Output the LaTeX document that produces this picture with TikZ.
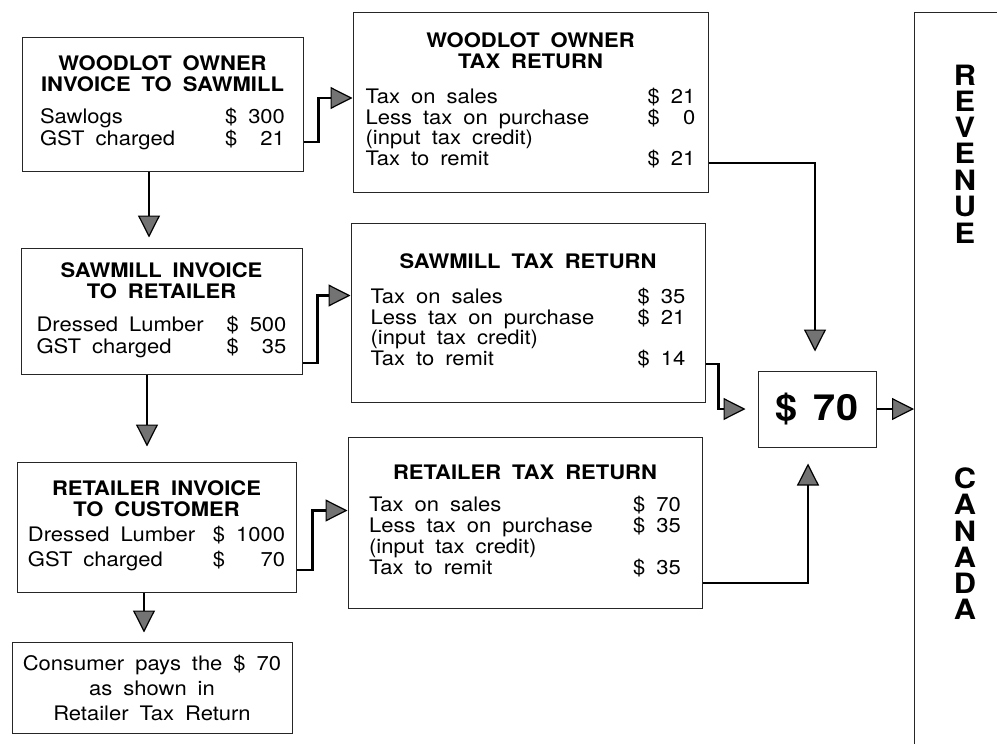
\documentclass[tikz,border=0pt]{standalone}
\usepackage{fontspec}
\setmainfont{TeX Gyre Heros}[FakeStretch=1.1,WordSpace=1.8]
\usetikzlibrary{positioning,arrows.meta}

\newcommand{\retrows}[4]{{\fontsize{20}{19.5}\selectfont
\begin{tabular}[t]{@{}p{#1}@{}l@{\ }r@{}}
Tax on sales&\$&#2\\
Less tax on purchase&\$&#3\\
(input tax credit)&&\\
Tax to remit&\$&#4
\end{tabular}}}

\begin{document}
\begin{tikzpicture}[x=1pt,y=-1pt,
  box/.style={draw=black!85,line width=1pt,align=center,font=\fontsize{20}{21}\selectfont},
  flow/.style={line width=2.5pt,-{Triangle[length=22pt,width=22pt,fill=black!55,line width=1.2pt]}},
  letter/.style={font=\fontsize{28}{30}\selectfont\bfseries}]
\clip (0,0) rectangle (997,744);
% invoices, left column
\node[box,minimum width=281pt,minimum height=134pt] (inv1) at (162.5,104) {\textbf{WOODLOT OWNER}\\\textbf{INVOICE TO SAWMILL}\\[11pt]
\begin{tabular}[t]{@{}p{185pt}@{}l@{\ }r@{}}Sawlogs&\$&300\\GST charged&\$&21\end{tabular}};
\node[box,minimum width=281pt,minimum height=126pt] (inv2) at (161.5,311) {\textbf{SAWMILL INVOICE}\\\textbf{TO RETAILER}\\[12pt]
\begin{tabular}[t]{@{}p{190pt}@{}l@{\ }r@{}}Dressed Lumber&\$&500\\GST charged&\$&35\end{tabular}};
\node[box,minimum width=279pt,minimum height=130pt] (inv3) at (156.5,527) {\textbf{RETAILER INVOICE}\\\textbf{TO CUSTOMER}\\[4pt]
\begin{tabular}[t]{@{}p{185pt}@{}l@{\ }r@{}}Dressed Lumber&\$&1000\\[3pt]GST charged&\$&70\end{tabular}};
\node[box,minimum width=280pt,minimum height=91pt,font=\fontsize{20}{25}\selectfont] (cons) at (152,687.5) {Consumer pays the \$ 70\\as shown in\\Retailer Tax Return};
% tax returns
\node[box,minimum width=355pt,minimum height=180pt] (ret1) at (530.5,102) {\textbf{WOODLOT OWNER}\\\textbf{TAX RETURN}\\[14pt]\retrows{282pt}{21}{0}{21}};
\node[box,minimum width=354pt,minimum height=179pt] (ret2) at (528,312.5) {\textbf{SAWMILL TAX RETURN}\\[14pt]\retrows{267pt}{35}{21}{14}};
\node[box,minimum width=354pt,minimum height=171pt] (ret3) at (525,522.5) {\textbf{RETAILER TAX RETURN}\\[11pt]\retrows{264pt}{70}{35}{35}};
% total and receiver
\node[box,minimum width=118pt,minimum height=76pt,font=\fontsize{36}{40}\selectfont\bfseries] (tot) at (817,409) {\$\hspace{16pt}70};
\node[draw=black!85,line width=1pt,anchor=north west,minimum width=150pt,minimum height=800pt] (rc) at (914,12) {};
\foreach \l/\y in {R/75,E/101,V/127,E/153,N/180,U/206,E/233,C/478,A/504,N/531,A/557,D/583,A/609}{\node[letter] (l\y) at (965,\y) {\l};}
% connectors
\draw[flow] ([xshift=-13.5pt]inv1.south) -- ([xshift=-13.5pt,yshift=10pt]inv1.south |- inv2.north);
\draw[flow] ([xshift=-14.5pt]inv2.south) -- ([xshift=-14.5pt,yshift=15pt]inv2.south |- inv3.north);
\draw[flow] ([xshift=-12.5pt]inv3.south) -- ([xshift=-12.5pt,yshift=9pt]inv3.south |- cons.north);
\draw[flow] ([yshift=-38pt]inv1.east) -- ++(15,0) |- ([yshift=4pt]ret1.west);
\draw[flow] ([yshift=-52pt]inv2.east) -- ++(15,0) |- ([yshift=17pt]ret2.west);
\draw[flow] ([yshift=-43pt]inv3.east) -- ++(16,0) |- ([yshift=12pt]ret3.west);
\draw[flow] ([yshift=-61pt]ret1.east) -| ([xshift=-2pt,yshift=19pt]tot.north);
\draw[flow] ([yshift=-51.5pt]ret2.east) -- ++(13,0) |- ([xshift=-12pt]tot.west);
\draw[flow] ([yshift=-60.5pt]ret3.east) -| ([xshift=-9pt,yshift=-16pt]tot.south);
\draw[flow] (tot.east) -- (tot.east -| rc.west);
\end{tikzpicture}
\end{document}
